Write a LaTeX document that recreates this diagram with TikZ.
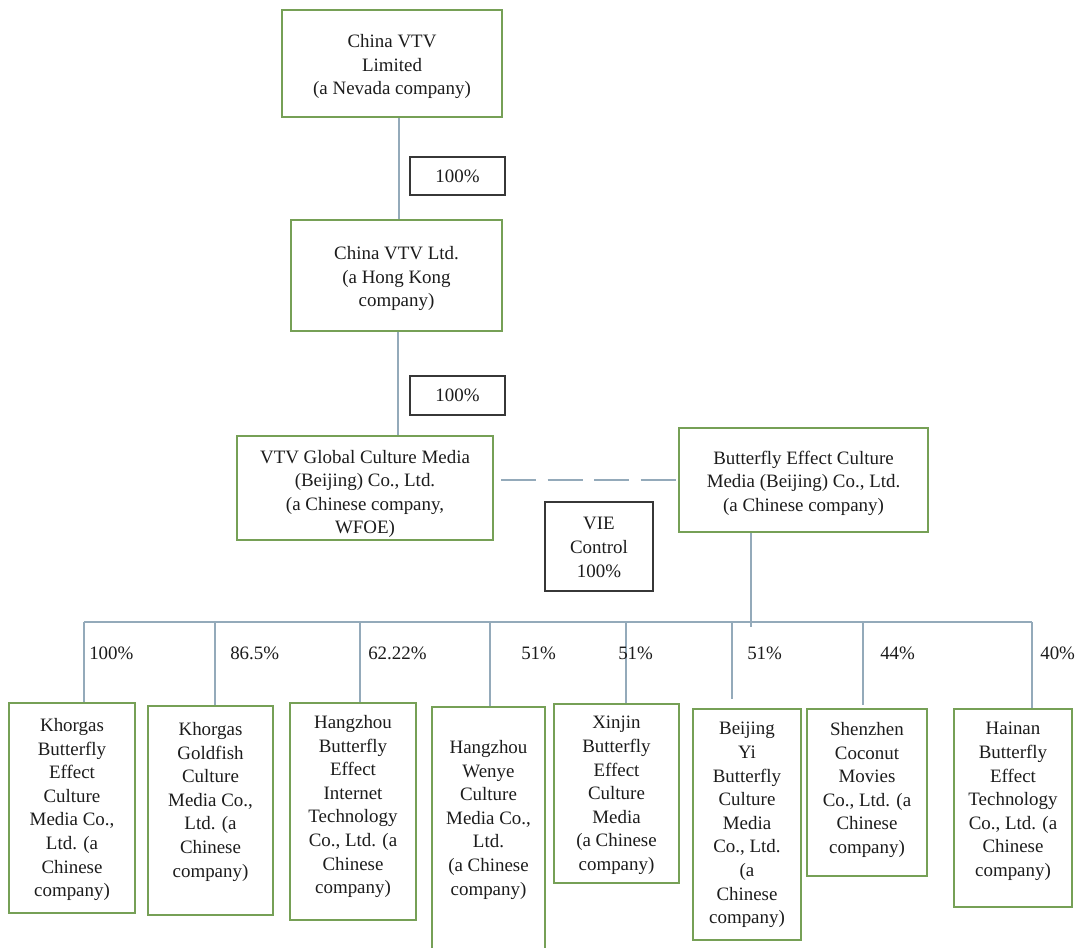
\documentclass[tikz,border=0pt]{standalone}
\usepackage{fontspec}
\setmainfont{Liberation Serif}
\usetikzlibrary{fit,calc}
\definecolor{boxgreen}{RGB}{118,160,86}
\definecolor{linegray}{RGB}{148,170,186}
\definecolor{lblgray}{RGB}{55,55,55}
\definecolor{txtcol}{RGB}{28,28,28}
\begin{document}
\begin{tikzpicture}[x=0.75pt,y=-0.75pt,
  txtfont/.style={font=\fontsize{14.2pt}{17.7pt}\selectfont, text=txtcol},
  gbox/.style={draw=boxgreen, line width=1.8pt, inner sep=0pt},
  pbox/.style={draw=lblgray, line width=1.1pt, inner sep=0pt},
  ctxt/.style={inner sep=0pt, anchor=center, align=center, txtfont},
  conn/.style={draw=linegray, line width=1pt},
  dconn/.style={conn, dash pattern=on 26.25pt off 8.6pt},
  lbl/.style={inner sep=0pt, anchor=west, txtfont},
  btxt/.style={inner sep=0pt, anchor=north, align=center, txtfont}]
\useasboundingbox (0,0) rectangle (1080,947);
\fill[white] (0,0) rectangle (1080,947);

% upper chain
\node[gbox, fit={(282,10) (502,117)}] (top) {};
\node[ctxt] (topt) at ($(top.center)+(0,3)$) {China VTV\\Limited\\(a Nevada company)};
\node[pbox, fit={(410,157) (505,195)}] (pa) {};
\node[ctxt] (pat) at (pa.center) {100\%};
\node[gbox, fit={(291,220) (502,331)}] (hk) {};
\node[ctxt] (hkt) at ($(hk.center)+(0,3)$) {China VTV Ltd.\\(a Hong Kong\\company)};
\node[pbox, fit={(410,376) (505,415)}] (pb) {};
\node[ctxt] (pbt) at (pb.center) {100\%};
\node[gbox, fit={(237,436) (493,540)}] (wfoe) {};
\node[ctxt] (wfoet) at ($(wfoe.center)+(0,6)$) {VTV Global Culture Media\\(Beijing) Co., Ltd.\\(a Chinese company,\\WFOE)};
\node[gbox, fit={(679,428) (928,532)}] (bf) {};
\node[ctxt] (bft) at ($(bf.center)+(0,3)$) {Butterfly Effect Culture\\Media (Beijing) Co., Ltd.\\(a Chinese company)};
\node[pbox, fit={(545,502) (653,591)}] (vie) {};
\node[ctxt] (viet) at ($(vie.center)+(0,1)$) {VIE\\Control\\100\%};

\coordinate (v1) at (399,117);
\coordinate (v2) at (398,331);
\draw[conn] (top.south -| v1) -- (hk.north -| v1);
\draw[conn] (hk.south -| v2) -- (wfoe.north -| v2);
\draw[dconn] ($(wfoe.east |- bf.west)+(7,0)$) -- (bf.west);

\coordinate (bfd) at (751,627);
\draw[conn] (bfd |- bf.south) -- (bfd);

% bottom boxes
\node[gbox, fit={(9,703) (135,913)}] (b1) {};
\node[btxt] (b1t) at (72,718) {Khorgas\\Butterfly\\Effect\\Culture\\Media Co.,\\Ltd. (a\\Chinese\\company)};
\node[gbox, fit={(148,706) (273,915)}] (b2) {};
\node[btxt] (b2t) at (210.5,722) {Khorgas\\Goldfish\\Culture\\Media Co.,\\Ltd. (a\\Chinese\\company)};
\node[gbox, fit={(290,703) (416,920)}] (b3) {};
\node[btxt] (b3t) at (353,715) {Hangzhou\\Butterfly\\Effect\\Internet\\Technology\\Co., Ltd. (a\\Chinese\\company)};
\node[gbox, fit={(432,707) (545,968)}] (b4) {};
\node[btxt] (b4t) at (488.5,740) {Hangzhou\\Wenye\\Culture\\Media Co.,\\Ltd.\\(a Chinese\\company)};
\node[gbox, fit={(554,704) (679,883)}] (b5) {};
\node[btxt] (b5t) at (616.5,716) {Xinjin\\Butterfly\\Effect\\Culture\\Media\\(a Chinese\\company)};
\node[gbox, fit={(693,709) (801,940)}] (b6) {};
\node[btxt] (b6t) at (747,722) {Beijing\\Yi\\Butterfly\\Culture\\Media\\Co., Ltd.\\(a\\Chinese\\company)};
\node[gbox, fit={(807,709) (927,876)}] (b7) {};
\node[btxt] (b7t) at (867,722) {Shenzhen\\Coconut\\Movies\\Co., Ltd. (a\\Chinese\\company)};
\node[gbox, fit={(954,709) (1072,907)}] (b8) {};
\node[btxt] (b8t) at (1013,722) {Hainan\\Butterfly\\Effect\\Technology\\Co., Ltd. (a\\Chinese\\company)};

% bus and drops
\coordinate (busL) at (84,622);
\coordinate (busR) at (1032,622);
\draw[conn] (busL) -- (busR);
\coordinate (d1) at (84,622);
\coordinate (d2) at (215,622);
\coordinate (d3) at (360,622);
\coordinate (d4) at (490,622);
\coordinate (d5) at (626,622);
\coordinate (d6) at (732,622);
\coordinate (d7) at (863,622);
\coordinate (d8) at (1032,622);
\draw[conn] (d1) -- (d1 |- b1.north);
\draw[conn] (d2) -- (d2 |- b2.north);
\draw[conn] (d3) -- (d3 |- b3.north);
\draw[conn] (d4) -- (d4 |- b4.north);
\draw[conn] (d5) -- (d5 |- b5.north);
\draw[conn] (d6) -- ($(d6 |- b6.north)+(0,-9)$);
\draw[conn] (d7) -- ($(d7 |- b7.north)+(0,-3)$);
\draw[conn] (d8) -- (d8 |- b8.north);

% percentages
\node[lbl] (l1) at (89,653) {100\%};
\node[lbl] (l2) at (230,653) {86.5\%};
\node[lbl] (l3) at (368,653) {62.22\%};
\node[lbl] (l4) at (521,653) {51\%};
\node[lbl] (l5) at (618,653) {51\%};
\node[lbl] (l6) at (747,653) {51\%};
\node[lbl] (l7) at (880,653) {44\%};
\node[lbl] (l8) at (1040,653) {40\%};
\end{tikzpicture}
\end{document}
